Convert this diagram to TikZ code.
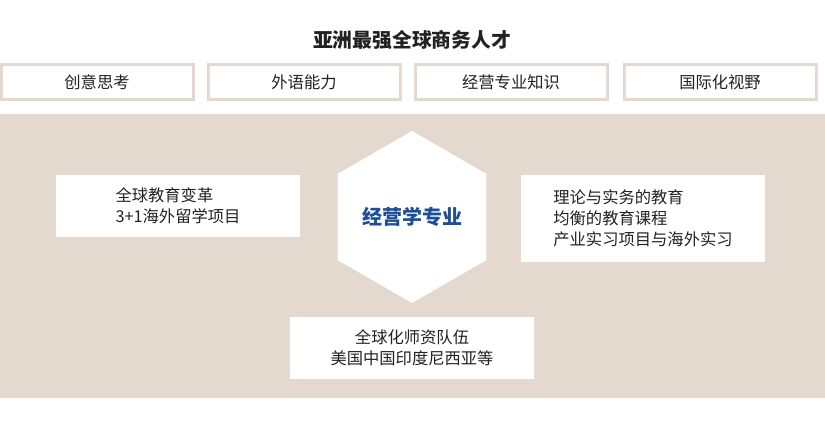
\documentclass[tikz,border=0pt]{standalone}
\usepackage{fontspec}
\setmainfont{Noto Sans CJK SC}
\usepackage{xcolor}
\usetikzlibrary{shapes.geometric}

\definecolor{sand}{HTML}{E3D9CE}
\definecolor{ink}{HTML}{222222}
\definecolor{navy}{HTML}{1D4E9B}

\tikzset{
	goalbox/.style={draw=sand,line width=3pt,fill=white,minimum width=192pt,minimum height=35pt,inner sep=0pt,text=ink,font=\fontsize{16.3}{18}\selectfont},
	infobox/.style={fill=white,minimum width=244pt,inner sep=0pt,text=ink,font=\fontsize{16.3}{21}\selectfont}
}

\begin{document}
\begin{tikzpicture}[x=1pt,y=-1pt]
	\useasboundingbox (0,0) rectangle (825,432);
	\fill[white] (0,0) rectangle (825,432);
	
	\node[text=ink,font=\fontsize{19.8}{22}\selectfont\bfseries] (title) at (412,40) {亚洲最强全球商务人才};
	
	\node[goalbox] (think) at (97,82) {创意思考};
	\node[goalbox] (lang) at (304,82) {外语能力};
	\node[goalbox] (biz) at (511,82) {经营专业知识};
	\node[goalbox] (world) at (720,82) {国际化视野};
	
	\fill[sand] (0,114) rectangle (825,398);
	
	\node[regular polygon,regular polygon sides=6,shape border rotate=30,minimum size=172pt,inner sep=0pt,fill=white] (hex) at (412,217) {};
	\node[text=navy,font=\fontsize{20}{22}\selectfont\bfseries] (major) at (hex.center) {经营学专业};
	
	\node[infobox,minimum height=62pt,align=left] (reform) at (178,206) {全球教育变革\\3+1海外留学项目};
	\node[infobox,minimum height=87pt,align=left] (balance) at (643,218.5) {理论与实务的教育\\均衡的教育课程\\产业实习项目与海外实习};
	\node[infobox,minimum height=62pt,align=center] (faculty) at (412,348) {全球化师资队伍\\美国中国印度尼西亚等};
\end{tikzpicture}
\end{document}
